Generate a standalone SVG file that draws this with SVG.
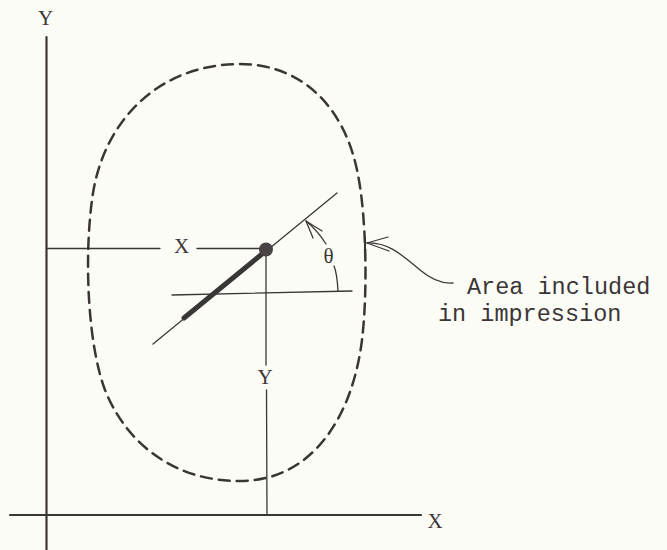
<svg xmlns="http://www.w3.org/2000/svg" width="667" height="550" viewBox="0 0 667 550">
<defs>
<style>
.ln{stroke:#3b3636;fill:none;stroke-linecap:round}
.ax{stroke-width:2.2}
.th{stroke-width:1.3}
.lbl{fill:#3b3636}
.big{font-family:"Liberation Serif","DejaVu Serif",serif;font-size:21px}
.txt{font-family:"Liberation Mono","DejaVu Sans Mono",monospace;font-size:23.5px}
</style>
</defs>
<rect width="667" height="550" fill="#fcfcf7"/>
<g id="connectors">
<line class="ln ax" x1="46.5" y1="37" x2="46.5" y2="550"/>
<line class="ln ax" x1="10" y1="515" x2="421" y2="515"/>
<line class="ln th" x1="47" y1="248.5" x2="160" y2="248.5"/>
<line class="ln th" x1="197" y1="248.5" x2="262" y2="248.5"/>
<line class="ln th" x1="266" y1="252" x2="266" y2="365"/>
<line class="ln th" x1="266.5" y1="390" x2="267" y2="515"/>
<line class="ln th" x1="172" y1="295" x2="352" y2="291"/>
<line class="ln th" x1="153" y1="344" x2="337" y2="193"/>
<line class="ln" stroke-width="5" x1="184" y1="318" x2="262" y2="254"/>
<path class="ln th" d="M338,291 Q337,273 334,266"/>
<path class="ln th" d="M326,244 Q318,231 306,221"/>
<path class="ln th" d="M306,221 L313,238 M306,221 L322,231"/>
<path class="ln" stroke-width="2.5" stroke-dasharray="11 7" d="M240,64 C300,64 345,105 358,175 C366,215 368,290 362,340 C352,420 310,481 240,481 C170,481 125,440 105,390 C88,345 84,260 92,200 C102,120 160,64 240,64 Z"/>
<path class="ln th" d="M367,243 C390,242 405,258 420,270 C432,280 442,284 453,283"/>
<path class="ln th" d="M367,243 L388,237 M367,243 L389,251"/>
<line class="ln" stroke-width="2" x1="365" y1="237" x2="365" y2="249"/>
</g>
<g id="pivot"><circle cx="266" cy="249.5" r="7" fill="#4a4343"/></g>
<g id="labels">
<text class="lbl big" x="45.5" y="25" text-anchor="middle">Y</text>
<text class="lbl big" x="435" y="528" text-anchor="middle">X</text>
<text class="lbl big" x="181.5" y="253" text-anchor="middle">X</text>
<text class="lbl big" x="265" y="384" text-anchor="middle">Y</text>
<text class="lbl big" x="328.5" y="263" text-anchor="middle" font-size="24">θ</text>
<text class="lbl txt" x="467" y="294">Area included</text>
<text class="lbl txt" x="438" y="321">in impression</text>
</g>
</svg>
